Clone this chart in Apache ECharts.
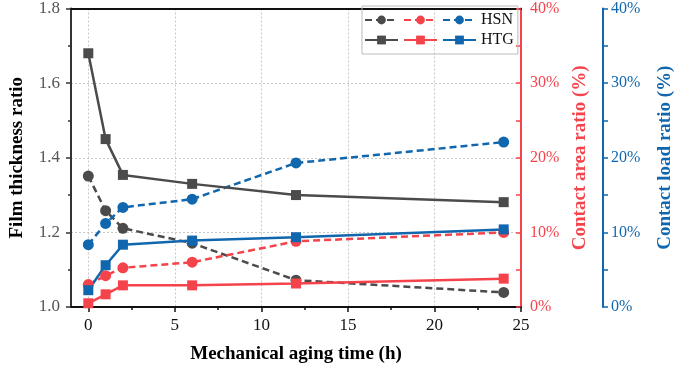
<!DOCTYPE html>
<html>
<head>
<meta charset="utf-8">
<script src="https://cdn.jsdelivr.net/npm/echarts@6/dist/echarts.min.js"></script>
<style>
  html, body { margin: 0; padding: 0; background: #fff; }
  #echart { width: 685px; height: 371px; }
</style>
</head>
<body>
<div id="echart"></div>
<script>
// aging time (h)
var times = [0, 1, 2, 6, 12, 24];

// film thickness ratio (left axis)
var hsnFilm = [1.351, 1.258, 1.211, 1.171, 1.072, 1.039];
var htgFilm = [1.680, 1.450, 1.354, 1.330, 1.300, 1.281];

// contact area ratio (%)
var hsnArea = [3.0, 4.2, 5.25, 6.0, 8.8, 10.0];
var htgArea = [0.5, 1.7, 2.9, 2.9, 3.15, 3.8];

// contact load ratio (%)
var hsnLoad = [8.35, 11.2, 13.35, 14.45, 19.3, 22.1];
var htgLoad = [2.25, 5.6, 8.35, 8.9, 9.35, 10.4];

var xTicks = [0, 5, 10, 15, 20, 25];
var xMinorTicks = [2.5, 7.5, 12.5, 17.5, 22.5];

var GRAY = '#4b4b4b';
var RED = '#f5434c';
var BLUE = '#1167ad';
var FONT = '"Liberation Serif", "DejaVu Serif", serif';

function pairs(ys) {
	return times.map(function(t, i) { return [t, ys[i]]; });
}

function makeSeries(name, data, color, yIdx, dashed) {
	return {
		name: name,
		type: 'line',
		xAxisIndex: 0,
		yAxisIndex: yIdx,
		data: pairs(data),
		symbol: dashed ? 'circle' : 'rect',
		symbolSize: dashed ? 11 : 10,
		lineStyle: { color: color, width: 2.5, type: dashed ? [7, 4] : 'solid' },
		itemStyle: { color: color },
		emphasis: { disabled: true },
		animation: false
	};
}

var legendText = {
	'HSN film': '', 'HSN area': '', 'HSN load': 'HSN',
	'HTG film': '', 'HTG area': '', 'HTG load': 'HTG'
};

var eChart = echarts.init(document.getElementById('echart'));

var eChartOption = {
	animation: false,
	grid: { left: 67, right: 164, top: 6, bottom: 64 },
	legend: {
		left: 362,
		top: 6,
		width: 154,
		orient: 'horizontal',
		itemWidth: 33,
		itemHeight: 11,
		itemGap: 0,
		padding: [4, 4, 4, 2],
		borderColor: '#bbb',
		borderWidth: 1,
		textStyle: { fontFamily: FONT, fontSize: 16, color: '#111', lineHeight: 20 },
		formatter: function(name) { return legendText[name]; },
		data: ['HSN film', 'HSN area', 'HSN load', 'HTG film', 'HTG area', 'HTG load']
	},
	xAxis: [
		{
			type: 'value',
			min: -1,
			max: 25,
			name: 'Mechanical aging time (h)',
			nameLocation: 'middle',
			nameGap: 38,
			nameTextStyle: { fontFamily: FONT, fontSize: 19, fontWeight: 'bold', color: '#000' },
			axisLine: { onZero: false, lineStyle: { color: '#111', width: 2 } },
			axisTick: { show: true, length: 5, customValues: xTicks, lineStyle: { color: '#111', width: 1.5 } },
			axisLabel: { customValues: xTicks, margin: 10, fontFamily: FONT, fontSize: 17, color: '#111' },
			splitLine: { show: true, lineStyle: { color: '#c8c8c8', type: [2, 2], width: 1 } }
		},
		{
			// minor ticks
			type: 'value',
			min: -1,
			max: 25,
			position: 'bottom',
			axisLine: { show: false, onZero: false },
			axisTick: { show: true, length: 3, customValues: xMinorTicks, lineStyle: { color: '#111', width: 1.5 } },
			axisLabel: { show: false },
			splitLine: { show: false }
		},
		{
			// top frame line
			type: 'value',
			min: -1,
			max: 25,
			position: 'top',
			axisLine: { show: true, onZero: false, lineStyle: { color: '#111', width: 2 } },
			axisTick: { show: false },
			axisLabel: { show: false },
			splitLine: { show: false }
		}
	],
	yAxis: [
		{
			type: 'value',
			min: 1.0,
			max: 1.8,
			interval: 0.2,
			position: 'left',
			name: 'Film thickness ratio',
			nameLocation: 'middle',
			nameGap: 44,
			nameTextStyle: { fontFamily: FONT, fontSize: 19, fontWeight: 'bold', color: '#000' },
			axisLine: { show: true, onZero: false, lineStyle: { color: '#333', width: 2 } },
			axisTick: { show: true, length: 5, lineStyle: { color: '#333', width: 1.5 } },
			minorTick: { show: true, splitNumber: 2, length: 3, lineStyle: { color: '#333', width: 1.5 } },
			axisLabel: {
				margin: 11,
				fontFamily: FONT,
				fontSize: 17,
				color: '#555',
				formatter: function(v) { return v.toFixed(1); }
			},
			splitLine: { show: true, lineStyle: { color: '#c8c8c8', type: [2, 2], width: 1 } }
		},
		{
			type: 'value',
			min: 0,
			max: 40,
			interval: 10,
			position: 'right',
			name: 'Contact area ratio (%)',
			nameLocation: 'middle',
			nameGap: 48,
			nameTextStyle: { fontFamily: FONT, fontSize: 19, fontWeight: 'bold', color: RED },
			axisLine: { show: true, onZero: false, lineStyle: { color: RED, width: 2 } },
			axisTick: { show: true, inside: true, length: 5, lineStyle: { color: RED, width: 1.5 } },
			minorTick: { show: true, splitNumber: 2, length: 5, lineStyle: { color: RED, width: 1.5 } },
			axisLabel: {
				margin: 9,
				fontFamily: FONT,
				fontSize: 16,
				color: RED,
				formatter: '{value}%'
			},
			splitLine: { show: false }
		},
		{
			type: 'value',
			min: 0,
			max: 40,
			interval: 10,
			position: 'right',
			offset: 82,
			name: 'Contact load ratio (%)',
			nameLocation: 'middle',
			nameGap: 53,
			nameTextStyle: { fontFamily: FONT, fontSize: 19, fontWeight: 'bold', color: BLUE },
			axisLine: { show: true, onZero: false, lineStyle: { color: BLUE, width: 2 } },
			axisTick: { show: true, length: 5, lineStyle: { color: BLUE, width: 1.5 } },
			minorTick: { show: true, splitNumber: 2, length: 5, lineStyle: { color: BLUE, width: 1.5 } },
			axisLabel: {
				margin: 8,
				fontFamily: FONT,
				fontSize: 16,
				color: BLUE,
				formatter: '{value}%'
			},
			splitLine: { show: false }
		}
	],
	series: [
		makeSeries('HSN film', hsnFilm, GRAY, 0, true),
		makeSeries('HSN area', hsnArea, RED, 1, true),
		makeSeries('HSN load', hsnLoad, BLUE, 2, true),
		makeSeries('HTG film', htgFilm, GRAY, 0, false),
		makeSeries('HTG area', htgArea, RED, 1, false),
		makeSeries('HTG load', htgLoad, BLUE, 2, false)
	]
};

eChart.setOption(eChartOption);
</script>
</body>
</html>
